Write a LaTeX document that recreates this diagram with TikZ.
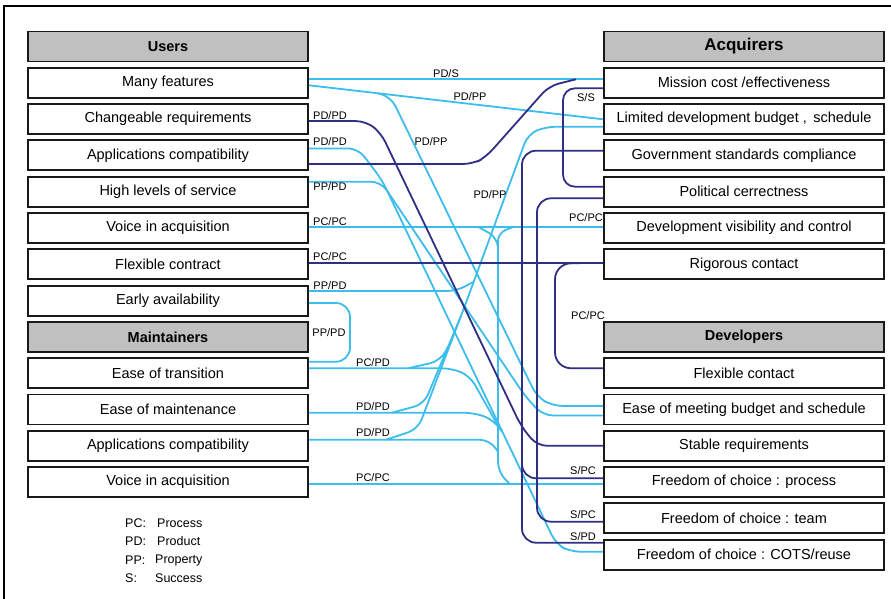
\documentclass[tikz,border=0pt]{standalone}
\usepackage{fontspec}
\setmainfont{Liberation Sans}
\usetikzlibrary{calc}
\definecolor{cyl}{HTML}{3CBDEB}
\definecolor{nvy}{HTML}{2F2F85}
\definecolor{hdr}{HTML}{C0C0C0}
\begin{document}
\begin{tikzpicture}[x=1pt,y=-1pt,
  box/.style={draw=black!90,line width=1.9pt,minimum width=280pt,minimum height=30pt,inner sep=0pt,font=\fontsize{14.5}{16}\selectfont,fill=white},
  hbox/.style={box,fill=hdr,font=\fontsize{14.5}{16}\selectfont\bfseries},
  lbl/.style={font=\fontsize{11}{12}\selectfont,inner sep=0pt},
  cy/.style={draw=cyl,line width=1.8pt,rounded corners=10pt},
  nv/.style={draw=nvy,line width=1.8pt,rounded corners=10pt},
  leg/.style={font=\fontsize{12.5}{14}\selectfont,anchor=west,inner sep=0pt}]
\useasboundingbox (0,0) rectangle (891,599);
\draw[line width=1.8pt] (4,599) -- (4,6) -- (891,6);

% left column
\node[hbox] (LH1) at (168,46.5) {Users};
\node[box] (L1) at (168,82.8) {Many features};
\node[box] (L2) at (168,119.1) {Changeable requirements};
\node[box] (L3) at (168,155.4) {Applications compatibility};
\node[box] (L4) at (168,191.7) {High levels of service};
\node[box] (L5) at (168,228.0) {Voice in acquisition};
\node[box] (L6) at (168,264.3) {Flexible contract};
\node[box] (L7) at (168,300.6) {Early availability};
\node[hbox] (LH2) at (168,336.9) {Maintainers};
\node[box] (L9) at (168,373.2) {Ease of transition};
\node[box] (L10) at (168,409.5) {Ease of maintenance};
\node[box] (L11) at (168,445.8) {Applications compatibility};
\node[box] (L12) at (168,482.1) {Voice in acquisition};

% right column
\node[hbox,font=\fontsize{17}{19}\selectfont\bfseries] (RH1) at (744,46.5) {Acquirers};
\node[box] (R1) at (744,82.8) {Mission cost /effectiveness};
\node[box] (R2) at (744,119.1) {Limited development budget , \,schedule};
\node[box] (R3) at (744,155.4) {Government standards compliance};
\node[box] (R4) at (744,191.7) {Political cerrectness};
\node[box] (R5) at (744,228.0) {Development visibility and control};
\node[box] (R6) at (744,264.3) {Rigorous contact};
\node[hbox] (RH2) at (744,336.9) {Developers};
\node[box] (R9) at (744,373.2) {Flexible contact};
\node[box] (R10) at (744,409.5) {Ease of meeting budget and schedule};
\node[box] (R11) at (744,445.8) {Stable requirements};
\node[box] (R12) at (744,482.1) {Freedom of choice : process};
\node[box] (R13) at (744,518.4) {Freedom of choice : team};
\node[box] (R14) at (744,554.7) {Freedom of choice : COTS/reuse};

% junction coordinates
\coordinate (b1) at (378,93.3);
\coordinate (m1) at (576,79.3);
\coordinate (j1) at (502,432);
\coordinate (j2) at (497,424);
\coordinate (j3) at (498,452);
\coordinate (j4) at (478,226.7);
\coordinate (j5) at (510,484.3);
\coordinate (j6) at (498,248);
\coordinate (j7) at (514,226.7);
\coordinate (r0) at (386,439.8);
\coordinate (r1) at (392,412.7);
\coordinate (r2) at (461,316);
\coordinate (r3) at (408,368.3);
\coordinate (r4) at (452,340);
\coordinate (r5) at (473,282);
\coordinate (n1) at (522,450);
\coordinate (n2) at (580,263.3);

% cyan connectors
\draw[cy] ($(L1.east)+(0,-3.5)$) -- ($(R1.west)+(0,-3.5)$);
\draw[cy] ($(L1.east)+(0,2.5)$) -- ($(R2.west)+(0,0.2)$);
\draw[cy] (b1) -- (391,97) -- (537,397) -- (553,406) -- ($(R10.west)+(0,-3.5)$);
\draw[cy] ($(L4.east)+(0,-10)$) -- (381,181.7) -- (525,396) -- (543,415.5) -- ($(R10.west)+(0,6)$);
\draw[cy] ($(L3.east)+(0,-7)$) -- (358,148.4) -- (382,180) -- (556,544) -- (570,551.7) -- ($(R14.west)+(0,-3)$);
\draw[cy] ($(L10.east)+(0,3.2)$) -- (474,412.7) -- (494,420) -- (j1);
\draw[cy] ($(L9.east)+(0,-4.9)$) -- (452,368.3) -- (470,376) -- (j2);
\draw[cy] ($(L11.east)+(0,-6)$) -- (490,439.8) -- (j3);
\draw[cy] ($(L5.east)+(0,-1.3)$) -- ($(R5.west)+(0,-1.3)$);
\draw[cy] (j4) -- (498,238) -- (498,472) -- (j5);
\draw[cy,rounded corners=8pt] (j6) -- (498,233) -- (j7);
\draw[cy] ($(L12.east)+(0,2.2)$) -- ($(R12.west)+(0,2.2)$);
\draw[cy] (r0) -- (418,429) -- (467,300) -- (528,134) -- (546,126.7) -- ($(R2.west)+(0,7.6)$);
\draw[cy] (r1) -- (424,404) -- (r2);
\draw[cy] (r3) -- (440,361) -- (r4);
\draw[cy] ($(L7.east)+(0,-9.6)$) -- (457,291) -- (r5);
\draw[cy,rounded corners=14pt] ($(L7.east)+(0,2.4)$) -- (350,303) -- (350,361.7) -- ($(L9.east)+(0,-11.5)$);

% navy connectors
\draw[nv] ($(L2.east)+(0,2)$) -- (366,121.1) -- (381,133) -- (521,426) -- (537,445.8) -- (R11.west);
\draw[nv] ($(L3.east)+(0,8.6)$) -- (473,164) -- (486,157) -- (549,86) -- (m1);
\draw[nv,rounded corners=12pt] ($(R1.west)+(0,5.5)$) -- (563,88.3) -- (563,186.7) -- ($(R4.west)+(0,-5)$);
\draw[nv,rounded corners=14pt] ($(R3.west)+(0,-4.7)$) -- (522,150.7) -- (522,542.7) -- ($(R14.west)+(0,-12)$);
\draw[nv,rounded corners=14pt] (n1) -- (522,478.3) -- ($(R12.west)+(0,-3.8)$);
\draw[nv,rounded corners=14pt] ($(R4.west)+(0,6.6)$) -- (537,198.3) -- (537,521.7) -- ($(R13.west)+(0,3.3)$);
\draw[nv] ($(L6.east)+(0,-1)$) -- ($(R6.west)+(0,-1)$);
\draw[nv,rounded corners=16pt] (n2) -- (555,263.3) -- (555,368.3) -- ($(R9.west)+(0,-5)$);

% labels
\node[lbl] (t1) at (446,74) {PD/S};
\node[lbl] (t2) at (470,97) {PD/PP};
\node[lbl] (t3) at (330,116) {PD/PD};
\node[lbl] (t4) at (330,142) {PD/PD};
\node[lbl] (t5) at (431,142) {PD/PP};
\node[lbl] (t6) at (330,187) {PP/PD};
\node[lbl] (t7) at (490,195) {PD/PP};
\node[lbl] (t8) at (330,222) {PC/PC};
\node[lbl] (t9) at (586,218) {PC/PC};
\node[lbl] (t10) at (330,257) {PC/PC};
\node[lbl] (t11) at (330,286) {PP/PD};
\node[lbl] (t12) at (586,98) {S/S};
\node[lbl] (t13) at (329,333) {PP/PD};
\node[lbl] (t14) at (588,316) {PC/PC};
\node[lbl] (t15) at (373,363) {PC/PD};
\node[lbl] (t16) at (373,407) {PD/PD};
\node[lbl] (t17) at (373,433) {PD/PD};
\node[lbl] (t18) at (373,478) {PC/PC};
\node[lbl] (t19) at (583,471) {S/PC};
\node[lbl] (t20) at (583,515) {S/PC};
\node[lbl] (t21) at (583,537) {S/PD};

% legend
\node[leg] (g1) at (125,523) {PC:};
\node[leg] (g2) at (157,523) {Process};
\node[leg] (g3) at (125,541.5) {PD:};
\node[leg] (g4) at (157,541.5) {Product};
\node[leg] (g5) at (125,560) {PP:};
\node[leg] (g6) at (155,560) {Property};
\node[leg] (g7) at (125,578) {S:};
\node[leg] (g8) at (155,578) {Success};
\end{tikzpicture}
\end{document}
